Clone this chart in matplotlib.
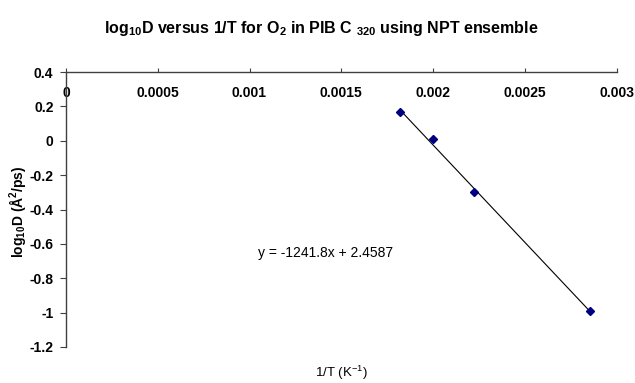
import numpy as np
import matplotlib
matplotlib.use("Agg")
import matplotlib.pyplot as plt

plt.rcParams['font.family'] = ['Liberation Sans', 'DejaVu Sans']
plt.rcParams['mathtext.fontset'] = 'custom'
plt.rcParams['mathtext.rm'] = 'Liberation Sans'
plt.rcParams['mathtext.bf'] = 'Liberation Sans:bold'

# data
inv_T = [1 / 550, 1 / 500, 1 / 450, 1 / 350]
log10_D = [0.167, 0.010, -0.298, -0.992]
x_ticks = [0, 0.0005, 0.001, 0.0015, 0.002, 0.0025, 0.003]
x_tick_labels = ["0", "0.0005", "0.001", "0.0015", "0.002", "0.0025", "0.003"]
y_ticks = [0.4, 0.2, 0, -0.2, -0.4, -0.6, -0.8, -1, -1.2]
y_tick_labels = ["0.4", "0.2", "0", "-0.2", "-0.4", "-0.6", "-0.8", "-1", "-1.2"]
equation = "y = -1241.8x + 2.4587"

fig = plt.figure(figsize=(6.35, 3.83), dpi=100)
ax = fig.add_axes([66 / 635, 1 - 347 / 383, (616.5 - 66) / 635, (347 - 72) / 383])

# linear trendline over the data range
coef = np.polyfit(inv_T, log10_D, 1)
xs = np.array([min(inv_T), max(inv_T)])
ax.plot(xs, np.polyval(coef, xs), color="black", lw=0.8, zorder=2)
ax.plot(inv_T, log10_D, linestyle="none", marker="D", markersize=4.5,
        color="#000080", zorder=3)

ax.set_xlim(0, 0.003)
ax.set_ylim(-1.2, 0.4)
ax.set_xticks(x_ticks)
ax.set_xticklabels(x_tick_labels, fontweight="bold", fontsize=10)
ax.set_yticks(y_ticks)
ax.set_yticklabels(y_tick_labels, fontweight="bold", fontsize=10)

for side in ["right", "bottom"]:
    ax.spines[side].set_visible(False)
for side in ["left", "top"]:
    ax.spines[side].set_color("#404040")
    ax.spines[side].set_linewidth(1.0)

ax.tick_params(axis="x", top=True, bottom=False, labeltop=True, labelbottom=False,
               direction="out", length=3, color="#404040", pad=-23)
ax.tick_params(axis="y", direction="out", length=4, color="#404040", pad=5)

ax.text(0.001046, -0.651, equation, fontsize=10, va="center", ha="left")

fig.text(321 / 635, 1 - 28 / 383,
         r"log$_\mathbf{10}$D versus 1/T for O$_\mathbf{2}$ in PIB C $_\mathbf{320}$ using NPT ensemble",
         fontweight="bold", fontsize=11.5, ha="center", va="center")
fig.text(18 / 635, 1 - 212 / 383, r"log$_\mathbf{10}$D (Å$^\mathbf{2}$/ps)",
         fontweight="bold", fontsize=10, rotation=90, ha="center", va="center")
fig.text(341 / 635, 1 - 373 / 383, r"1/T (K$^\mathrm{-1}$)",
         fontsize=9.5, ha="center", va="center")

fig.savefig("out.png", dpi=100)
